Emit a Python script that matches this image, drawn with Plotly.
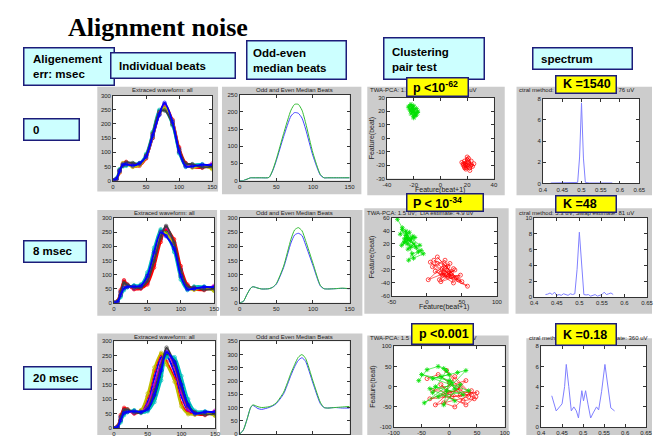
import plotly.graph_objects as go

W, H = 658, 438


def fx(px):
    return px / W


def fy(py):
    return 1 - py / H


# ---------------- data ----------------
# sample positions of the extracted beats
BEAT_X = [0, 5, 10, 15, 20, 30, 40, 50, 60, 70, 78, 90, 100, 110, 120, 135, 150]

BEATS_0MS = [
    [0, 4, 32, 58, 62, 52, 56, 80, 150, 232, 262, 212, 112, 58, 50, 48, 52],
    [0, 6, 38, 52, 55, 58, 60, 90, 168, 246, 255, 198, 100, 52, 55, 54, 46],
    [0, 3, 28, 60, 66, 50, 52, 78, 152, 236, 270, 215, 118, 62, 48, 45, 55],
    [0, 7, 40, 50, 52, 60, 62, 94, 172, 250, 250, 194, 96, 48, 56, 58, 44],
    [0, 5, 34, 56, 60, 55, 57, 86, 162, 240, 265, 206, 108, 56, 52, 50, 60],
    [0, 5, 30, 62, 58, 48, 54, 82, 155, 238, 258, 210, 104, 54, 46, 52, 40],
    [0, 4, 36, 54, 64, 62, 59, 88, 165, 242, 248, 200, 110, 60, 58, 47, 50],
    [0, 6, 33, 57, 57, 53, 61, 84, 158, 234, 275, 208, 102, 50, 50, 56, 54],
]
BEATS_8MS = [
    [0, 5, 40, 75, 62, 50, 52, 70, 135, 225, 255, 215, 120, 60, 50, 48, 52],
    [0, 3, 25, 50, 58, 60, 62, 100, 185, 255, 250, 190, 90, 50, 55, 55, 45],
    [0, 6, 45, 80, 65, 48, 50, 65, 125, 215, 262, 225, 130, 65, 48, 45, 55],
    [0, 2, 20, 45, 55, 62, 65, 108, 195, 260, 240, 180, 82, 45, 58, 58, 50],
    [0, 4, 35, 62, 60, 52, 55, 85, 160, 240, 268, 205, 108, 55, 52, 50, 60],
    [0, 5, 30, 55, 58, 56, 58, 92, 172, 248, 245, 198, 100, 52, 46, 52, 42],
    [0, 4, 38, 70, 64, 54, 54, 78, 148, 232, 272, 212, 115, 58, 54, 47, 50],
    [0, 3, 28, 52, 56, 58, 60, 95, 178, 250, 236, 192, 95, 48, 50, 56, 55],
]
BEATS_20MS = [
    [0, 5, 40, 65, 60, 55, 58, 90, 175, 245, 250, 190, 110, 60, 50, 48, 52],
    [0, 3, 25, 50, 58, 60, 55, 62, 100, 180, 255, 235, 160, 85, 55, 55, 45],
    [0, 6, 45, 70, 65, 50, 60, 110, 200, 255, 230, 170, 85, 52, 48, 45, 55],
    [0, 2, 20, 45, 55, 62, 52, 58, 90, 165, 245, 245, 180, 100, 60, 58, 50],
    [0, 4, 35, 60, 60, 52, 57, 80, 150, 230, 265, 210, 125, 65, 52, 50, 60],
    [0, 5, 30, 55, 62, 56, 62, 120, 210, 260, 220, 160, 75, 48, 46, 52, 42],
    [0, 4, 38, 62, 64, 54, 54, 70, 130, 215, 278, 220, 140, 75, 54, 47, 50],
    [0, 3, 28, 52, 56, 58, 56, 65, 115, 200, 262, 228, 150, 80, 50, 56, 55],
]

# odd / even median beats
MED_X = [0, 5, 10, 15, 18, 25, 30, 40, 45, 50, 60, 70, 75, 80, 85, 90, 100, 110, 115, 120, 130, 140, 150]
ODD_0MS = [0, 0, 4, 8, 8, 8, 8, 9, 30, 62, 137, 205, 222, 222, 205, 168, 80, 18, 8, 8, 8, 8, 8]
EVEN_0MS = [0, 0, 4, 8, 8, 8, 8, 9, 28, 58, 128, 188, 198, 196, 182, 150, 72, 16, 8, 8, 8, 8, 8]
ODD_8MS = [0, 5, 30, 52, 57, 52, 49, 50, 55, 68, 130, 225, 258, 266, 255, 220, 140, 62, 50, 49, 50, 52, 50]
EVEN_8MS = [0, 5, 30, 52, 57, 52, 49, 50, 55, 66, 125, 212, 240, 246, 238, 205, 132, 60, 50, 49, 50, 51, 50]
ODD_20MS = [0, 15, 55, 100, 110, 103, 100, 103, 108, 118, 158, 230, 262, 290, 300, 285, 200, 120, 100, 98, 100, 102, 104]
EVEN_20MS = [0, 15, 55, 100, 108, 96, 93, 100, 106, 115, 152, 222, 254, 278, 288, 274, 192, 115, 100, 98, 100, 98, 98]

# PCA feature pairs (odd beats in green, even beats in red)
ODD_PAIR_0MS_X = [-21, -19, -23, -18, -20, -22, -17, -20, -24, -19, -21, -18, -22, -20, -23, -19, -17, -21, -20, -22]
ODD_PAIR_0MS_Y = [22, 19, 24, 17, 21, 25, 20, 16, 23, 18, 20, 22, 18, 24, 21, 17, 19, 23, 15, 20]
EVEN_PAIR_0MS_X = [20, 18, 22, 17, 21, 24, 19, 16, 23, 20, 18, 22, 25, 19, 21, 17, 20, 23, 18, 21]
EVEN_PAIR_0MS_Y = [-20, -17, -22, -19, -15, -21, -23, -18, -20, -16, -21, -24, -19, -22, -18, -20, -14, -17, -22, -19]

ODD_PAIR_8MS_X = [-42, -35, -38, -30, -28, -33, -25, -22, -36, -20, -27, -18, -32, -24, -15,
                  -29, -12, -21, -26, -8, -31, -17, -23, -10, -35, -28, -5, -19, -30, -27]
ODD_PAIR_8MS_Y = [58, 45, 35, 40, 30, 22, 38, 28, 18, 32, 12, 20, 28, 25, 15,
                  36, 8, 5, -5, 10, 24, 30, 15, 18, 42, 20, 5, -2, 33, 28]
EVEN_PAIR_8MS_X = [25, 15, 35, 10, 30, 20, 45, 5, 28, 40, 18, 33, 22, 58, 12,
                   38, 26, 8, 30, 48, 20, 35, 15, 42, 25, 2, 32, 50, 22, 38]
EVEN_PAIR_8MS_Y = [-20, -10, -30, -5, -15, -25, -35, -8, -28, -20, -35, -10, -18, -45, -22,
                   -40, -5, -15, -30, -28, -38, -25, 0, -32, -12, -35, -22, -38, -28, -18]

ODD_PAIR_20MS_X = [-55, -40, -20, -10, 0, -30, 15, 30, -5, -45, 5, -15, 25, -25, 10,
                   -35, 20, -10, 0, -50, 35, -20, 10, -5, -30]
ODD_PAIR_20MS_Y = [15, 42, 50, 45, 30, 20, 35, 40, -10, -40, 10, 25, -20, 0, -35,
                   -5, 5, -45, 15, 30, -10, -25, -5, 40, -15]
EVEN_PAIR_20MS_X = [-40, -20, 0, 20, 40, 10, -10, 30, -30, 50, 5, -15, 25, 45, -5,
                    15, 35, -25, 0, 20, -35, 40, 10, -10, 30, 48]
EVEN_PAIR_20MS_Y = [20, 30, 10, -20, -10, -50, -40, 15, -10, -15, -25, 5, -35, -30, 40,
                    0, -25, -45, -15, -5, -30, -20, 25, -20, -45, -25]

# power spectra around the alternans frequency (0.5 cycles/beat)
SPEC_0MS_F = [0.42, 0.44, 0.46, 0.48, 0.49, 0.495, 0.5, 0.505, 0.51, 0.52, 0.54, 0.56, 0.58]
SPEC_0MS_P = [0.05, 0.05, 0.04, 0.05, 0.1, 2.5, 7.6, 2.4, 0.1, 0.05, 0.04, 0.05, 0.05]

SPEC_8MS_F = [0.425, 0.43, 0.435, 0.44, 0.445, 0.45, 0.455, 0.46, 0.465, 0.47, 0.475, 0.48, 0.485,
              0.49, 0.495, 0.5, 0.505, 0.51, 0.515, 0.52, 0.525, 0.53, 0.535, 0.54, 0.545, 0.55,
              0.555, 0.56, 0.565, 0.57, 0.575]
SPEC_8MS_P = [0.3, 0.35, 0.5, 0.3, 0.6, 0.2, 0.3, 0.2, 0.4, 0.3, 0.2, 0.4, 0.3,
              0.4, 3.5, 8.2, 3.5, 0.3, 0.25, 0.3, 0.1, 0.2, 0.3, 0.1, 0.2, 0.3,
              0.6, 0.3, 0.4, 0.5, 0.3]

SPEC_20MS_F = [0.4255, 0.436, 0.444, 0.45, 0.456, 0.46, 0.466, 0.472, 0.478, 0.484, 0.489, 0.497,
               0.501, 0.506, 0.512, 0.518, 0.524, 0.532, 0.537, 0.544, 0.552, 0.56, 0.566, 0.575]
SPEC_20MS_P = [3.1, 1.6, 2.0, 2.3, 4.0, 6.2, 4.0, 1.6, 2.0, 1.6, 0.9, 3.6,
               2.6, 3.6, 2.2, 0.9, 1.4, 2.0, 1.7, 3.5, 6.2, 3.6, 1.9, 1.6]

ROW_LABELS = ["0", "8 msec", "20 msec"]
P_LABELS = ["p <10<sup>-62</sup>", "P < 10<sup>-34</sup>", "p <0.001"]
K_LABELS = ["K =1540", "K =48", "K =0.18"]
TWA_TITLES = ["TWA-PCA: 1.5 uV;  LIA estimate: 4.9 uV"] * 3
SPEC_TITLES = ["ctral method: 5.3 uV; Swap estimate: 76 uV",
               "ctral method: 5.3 uV; Swap estimate: 81 uV",
               "ctral method: 5.3 uV; Swap estimate: 360 uV"]

BEAT_COLORS = ["#0000ff", "#008000", "#ff0000", "#00bfbf", "#bf00bf", "#bfbf00", "#404040", "#0000ff"]

# ---------------- layout of the 3 x 4 grid ----------------
# (plot area px: x0, x1, y0, y1), (grey panel px: x0, x1, y0, y1)
PANELS = [
    ((109, 210, 94, 180), (93, 216, 85, 191)),
    ((238, 350, 93, 180), (220, 362, 85, 194)),
    ((388, 497, 96, 178), (368, 508, 85, 195)),
    ((547, 645, 97, 183), (520, 658, 85, 195)),
    ((110, 212, 218, 304), (93, 215, 210, 317)),
    ((238, 350, 218, 304), (218, 363, 210, 317)),
    ((393, 500, 218, 297), (365, 512, 208, 315)),
    ((538, 653, 218, 298), (519, 658, 208, 315)),
    ((110, 213, 343, 431), (93, 215, 335, 438)),
    ((238, 350, 343, 437), (218, 363, 335, 438)),
    ((395, 508, 348, 430), (368, 512, 337, 438)),
    ((545, 652, 348, 430), (530, 658, 340, 438)),
]

AXES = [
    # (xrange, xticks, yrange, yticks)
    ((0, 150), [0, 50, 100, 150], (0, 300), list(range(0, 301, 50))),
    ((0, 150), [0, 50, 100, 150], (0, 250), list(range(0, 251, 50))),
    ((-40, 40), [-40, -20, 0, 20, 40], (-30, 30), list(range(-30, 31, 10))),
    ((0.4, 0.65), [0.4, 0.45, 0.5, 0.55, 0.6, 0.65], (0, 8), [0, 2, 4, 6, 8]),
    ((0, 150), [0, 50, 100, 150], (0, 300), list(range(0, 301, 50))),
    ((0, 150), [0, 50, 100, 150], (0, 300), list(range(0, 301, 50))),
    ((-50, 100), [-50, 0, 50, 100], (-60, 60), list(range(-60, 61, 20))),
    ((0.4, 0.65), [0.4, 0.45, 0.5, 0.55, 0.6, 0.65], (0, 10), [0, 2, 4, 6, 8, 10]),
    ((0, 150), [0, 50, 100, 150], (0, 300), list(range(0, 301, 50))),
    ((0, 150), [0, 50, 100, 150], (0, 350), list(range(0, 351, 50))),
    ((-100, 100), [-100, -50, 0, 50, 100], (-100, 100), [-100, -50, 0, 50, 100]),
    ((0.4, 0.65), [0.4, 0.45, 0.5, 0.55, 0.6, 0.65], (0, 8), [0, 2, 4, 6, 8]),
]
# the bottom middle axes run off the slide, so its x labels are not visible
HIDDEN_XLABELS = {10}

TICK_FONT = dict(family="Liberation Sans", size=6, color="#222222")
SMALL_FONT = dict(family="Liberation Sans", size=6, color="#222222")

fig = go.Figure()
layout = dict(width=W, height=H, margin=dict(l=0, r=0, t=0, b=0),
              paper_bgcolor="white", plot_bgcolor="rgba(0,0,0,0)",
              showlegend=False, shapes=[], annotations=[])

for i, ((plot, bg), (xr, xt, yr, yt)) in enumerate(zip(PANELS, AXES)):
    n = i + 1
    xname = "xaxis" if n == 1 else f"xaxis{n}"
    yname = "yaxis" if n == 1 else f"yaxis{n}"
    xa = "x" if n == 1 else f"x{n}"
    ya = "y" if n == 1 else f"y{n}"
    common = dict(showline=True, linecolor="#333333", linewidth=0.8, mirror="ticks",
                  ticks="inside", ticklen=3, tickcolor="#333333", tickwidth=0.8,
                  showgrid=False, zeroline=False, tickfont=TICK_FONT, fixedrange=True)
    xtext = [f"{v:g}" for v in xt]
    layout[xname] = dict(common, domain=[fx(plot[0]), fx(plot[1])], anchor=ya,
                         range=list(xr), tickvals=xt, ticktext=xtext,
                         showticklabels=n not in HIDDEN_XLABELS)
    layout[yname] = dict(common, domain=[fy(plot[3]), fy(plot[2])], anchor=xa,
                         range=list(yr), tickvals=yt, ticktext=[f"{v:g}" for v in yt])
    # grey figure panel, then the white axes area on top of it
    layout["shapes"].append(dict(type="rect", xref="paper", yref="paper", layer="below",
                                 x0=fx(bg[0]), x1=fx(bg[1]), y0=fy(bg[3]), y1=fy(bg[2]),
                                 fillcolor="#cccccc", line=dict(width=0)))
    layout["shapes"].append(dict(type="rect", xref="paper", yref="paper", layer="below",
                                 x0=fx(plot[0]), x1=fx(plot[1]), y0=fy(plot[3]), y1=fy(plot[2]),
                                 fillcolor="white", line=dict(width=0)))

beat_sets = [BEATS_0MS, BEATS_8MS, BEATS_20MS]
median_sets = [(ODD_0MS, EVEN_0MS), (ODD_8MS, EVEN_8MS), (ODD_20MS, EVEN_20MS)]
pair_sets = [
    (ODD_PAIR_0MS_X, ODD_PAIR_0MS_Y, EVEN_PAIR_0MS_X, EVEN_PAIR_0MS_Y),
    (ODD_PAIR_8MS_X, ODD_PAIR_8MS_Y, EVEN_PAIR_8MS_X, EVEN_PAIR_8MS_Y),
    (ODD_PAIR_20MS_X, ODD_PAIR_20MS_Y, EVEN_PAIR_20MS_X, EVEN_PAIR_20MS_Y),
]
spec_sets = [(SPEC_0MS_F, SPEC_0MS_P), (SPEC_8MS_F, SPEC_8MS_P), (SPEC_20MS_F, SPEC_20MS_P)]


def ax(n):
    return ("x" if n == 1 else f"x{n}", "y" if n == 1 else f"y{n}")


for r in range(3):
    # individual beats
    xa, ya = ax(4 * r + 1)
    for k, beat in enumerate(beat_sets[r]):
        c = BEAT_COLORS[k % len(BEAT_COLORS)]
        fig.add_trace(go.Scatter(x=BEAT_X, y=beat, mode="lines+markers", xaxis=xa, yaxis=ya,
                                 line=dict(color=c, width=2, shape="spline", smoothing=0.8),
                                 marker=dict(symbol="circle-open", size=3.5, color=c, line=dict(width=0.7)),
                                 hoverinfo="skip"))
    # odd / even medians
    xa, ya = ax(4 * r + 2)
    odd, even = median_sets[r]
    fig.add_trace(go.Scatter(x=MED_X, y=even, mode="lines", xaxis=xa, yaxis=ya,
                             line=dict(color="#4444ff", width=1, shape="spline", smoothing=0.6)))
    fig.add_trace(go.Scatter(x=MED_X, y=odd, mode="lines", xaxis=xa, yaxis=ya,
                             line=dict(color="#33bb33", width=1, shape="spline", smoothing=0.6)))
    # feature pairs
    xa, ya = ax(4 * r + 3)
    gx, gy, rx, ry = pair_sets[r]
    fig.add_trace(go.Scatter(x=rx, y=ry, mode="lines+markers", xaxis=xa, yaxis=ya,
                             line=dict(color="#ff0000", width=0.6),
                             marker=dict(symbol="circle-open", size=4, color="#ff0000", line=dict(width=0.7))))
    fig.add_trace(go.Scatter(x=gx, y=gy, mode="lines+markers", xaxis=xa, yaxis=ya,
                             line=dict(color="#00e000", width=0.6),
                             marker=dict(symbol="asterisk-open", size=4, color="#00e000", line=dict(width=0.8))))
    # spectrum
    xa, ya = ax(4 * r + 4)
    f, p = spec_sets[r]
    fig.add_trace(go.Scatter(x=f, y=p, mode="lines", xaxis=xa, yaxis=ya,
                             line=dict(color="#8080ff", width=1)))

ann = layout["annotations"]


def text(px, py, s, font, xanchor="left", yanchor="middle", **kw):
    ann.append(dict(x=fx(px), y=fy(py), xref="paper", yref="paper", text=s, showarrow=False,
                    xanchor=xanchor, yanchor=yanchor, font=font, align="left", **kw))


def box(x0, x1, y0, y1, fill):
    ann.append(dict(x=fx((x0 + x1) / 2), y=fy((y0 + y1) / 2), xref="paper", yref="paper",
                    text=" ", showarrow=False, xanchor="center", yanchor="middle",
                    width=x1 - x0 - 3, height=y1 - y0 - 3, borderpad=0,
                    bgcolor=fill, bordercolor="#1c1c7a", borderwidth=1.5))


# panel titles
title_rows = [(88, 88), (213, 213), (339, 340)]
for r in range(3):
    ta, tc = title_rows[r]
    (pa, _), (pb, _), (pc, bgc), (pd, bgd) = PANELS[4 * r:4 * r + 4]
    text((pa[0] + pa[1]) / 2, ta, "Extraced waveform: all", SMALL_FONT, xanchor="center")
    text((pb[0] + pb[1]) / 2, ta, "Odd and Even Median Beats", SMALL_FONT, xanchor="center")
    text(bgc[0] + 1, tc, TWA_TITLES[r], SMALL_FONT)
    text(bgd[0] + 1, tc, SPEC_TITLES[r], SMALL_FONT)

# axis labels of the feature-pair plots
axis_font = dict(family="Liberation Sans", size=7, color="#222222")
for r, yl in enumerate([190, 308]):
    (pc, _) = PANELS[4 * r + 2]
    text((pc[0] + pc[1]) / 2, yl, "Feature(beat+1)", axis_font, xanchor="center")
for r in range(3):
    (pc, _) = PANELS[4 * r + 2]
    text(373, (pc[2] + pc[3]) / 2, "Feature(beat)", axis_font, xanchor="center", textangle=-90)

# heading
text(61, 25, "<b>Alignment noise</b>", dict(family="Liberation Serif", size=26, color="black"))

bold = dict(family="Liberation Sans", size=11.5, color="black")
ybold = dict(family="Liberation Sans", size=12.5, color="black")

# column headers
box(18, 110, 45, 84, "#ccffff")
text(25, 64.5, "<b>Aligenement<br>err: msec</b>", bold)
box(107, 233, 50, 77, "#ccffff")
text(113, 63.5, "<b>Individual beats</b>", bold)
box(245, 346, 38, 78, "#ccffff")
text(250, 58.5, "<b>Odd-even<br>median beats</b>", bold)
box(385, 487, 35, 78, "#ccffff")
text(391, 57, "<b>Clustering<br>pair test</b>", bold)
box(537, 638, 45, 68, "#ccffff")
text(543, 56.5, "<b>spectrum</b>", bold)

# row headers
for (y0, y1, x1), lab in zip([(117, 140, 75), (240, 263, 82), (368, 392, 87)], ROW_LABELS):
    box(18, x1, y0, y1, "#ccffff")
    text(25, (y0 + y1) / 2, f"<b>{lab}</b>", bold)

# statistics
for (x0, x1, y0, y1, tx), lab in zip([(408, 471, 75, 95, 413), (408, 486, 193, 212, 413),
                                      (413, 476, 325, 347, 419)], P_LABELS):
    box(x0, x1, y0, y1, "#ffff00")
    text(tx, (y0 + y1) / 2, f"<b>{lab}</b>", ybold)
for (y0, y1), lab in zip([(73, 92), (195, 213), (325, 348)], K_LABELS):
    box(560, 622, y0, y1, "#ffff00")
    text(565, (y0 + y1) / 2, f"<b>{lab}</b>", ybold)

fig.update_layout(**layout)
fig.write_html("out.html")
